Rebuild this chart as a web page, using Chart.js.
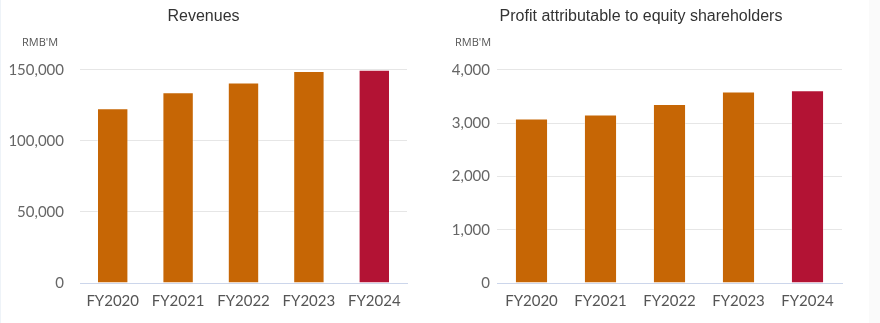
<!DOCTYPE html>
<html>
<head>
<meta charset="utf-8">
<script src="https://cdn.jsdelivr.net/npm/chart.js@4"></script>
<style>
  html, body { margin: 0; padding: 0; background: #fff; }
  body { width: 880px; height: 323px; position: relative; overflow: hidden; }
  .box { position: absolute; top: 0; height: 323px; }
  #leftBox { left: 0; width: 440px; }
  #rightBox { left: 440px; width: 429px; }
  #edgeR { position: absolute; left: 869px; top: 0; width: 11px; height: 323px; background: #fafafa; }
  #edgeL { position: absolute; left: 0; top: 0; width: 1px; height: 323px; background: #eef3f8; }
</style>
</head>
<body>
<div id="leftBox" class="box"><canvas id="revChart"></canvas></div>
<div id="rightBox" class="box"><canvas id="profitChart"></canvas></div>
<div id="edgeR"></div>
<div id="edgeL"></div>
<script>
// data
const years = ['FY2020', 'FY2021', 'FY2022', 'FY2023', 'FY2024'];
const revenues = [122900, 134100, 141000, 149000, 150000];
const profits = [3085, 3160, 3357, 3589, 3613];
const revenueTicks = [0, 50000, 100000, 150000];
const profitTicks = [0, 1000, 2000, 3000, 4000];
const unitLabel = "RMB'M";

const orange = '#c66605';
const crimson = '#b31334';

// draws the little unit text above the y axis
const unitPlugin = {
  id: 'unit',
  afterDraw(chart, args, opts) {
    const c = chart.ctx;
    c.save();
    c.font = '11px "Open Sans"';
    c.fillStyle = '#555';
    c.textAlign = 'left';
    c.textBaseline = 'middle';
    c.fillText(opts.text, opts.x, opts.y);
    c.restore();
  }
};

function makeChart(id, title, values, ticks, yWidth, padRight, tickPad, unitX) {
  return new Chart(document.getElementById(id), {
    type: 'bar',
    data: {
      labels: years,
      datasets: [{
        data: values,
        backgroundColor: ctx => ctx.dataIndex === years.length - 1 ? crimson : orange,
        borderColor: 'rgba(255,255,255,0.35)',
        borderWidth: 1,
        categoryPercentage: 1,
        barPercentage: 0.48
      }]
    },
    options: {
      responsive: true,
      maintainAspectRatio: false,
      animation: false,
      layout: { padding: { left: 0, right: padRight, top: 0, bottom: 0 } },
      plugins: {
        legend: { display: false },
        tooltip: { enabled: false },
        title: {
          display: true,
          text: title,
          color: '#333',
          font: { family: '"Liberation Sans", Arial, sans-serif', size: 16, weight: 'normal' },
          padding: { top: 7, bottom: 43.5 }
        },
        unit: { text: unitLabel, x: unitX, y: 43 }
      },
      scales: {
        x: {
          grid: { display: false, drawTicks: false },
          border: { display: true, color: '#ccd6eb', width: 1 },
          ticks: {
            color: '#555',
            padding: 9,
            font: { family: 'Lato, sans-serif', size: 15 }
          },
          afterFit: s => { s.height = 40; }
        },
        y: {
          min: ticks[0],
          max: ticks[ticks.length - 1],
          afterBuildTicks: s => { s.ticks = ticks.map(v => ({ value: v })); },
          grid: { color: '#e6e6e6', drawTicks: false },
          border: { display: false },
          ticks: {
            color: '#666',
            padding: tickPad,
            font: { family: 'Lato, sans-serif', size: 15 },
            callback: v => v.toLocaleString('en-US')
          },
          afterFit: s => { s.width = yWidth; }
        }
      }
    },
    plugins: [unitPlugin]
  });
}

makeChart('revChart', 'Revenues', revenues, revenueTicks, 80, 33, 16, 22);
makeChart('profitChart', 'Profit attributable to equity shareholders', profits, profitTicks, 57, 27, 7, 15);
</script>
</body>
</html>
